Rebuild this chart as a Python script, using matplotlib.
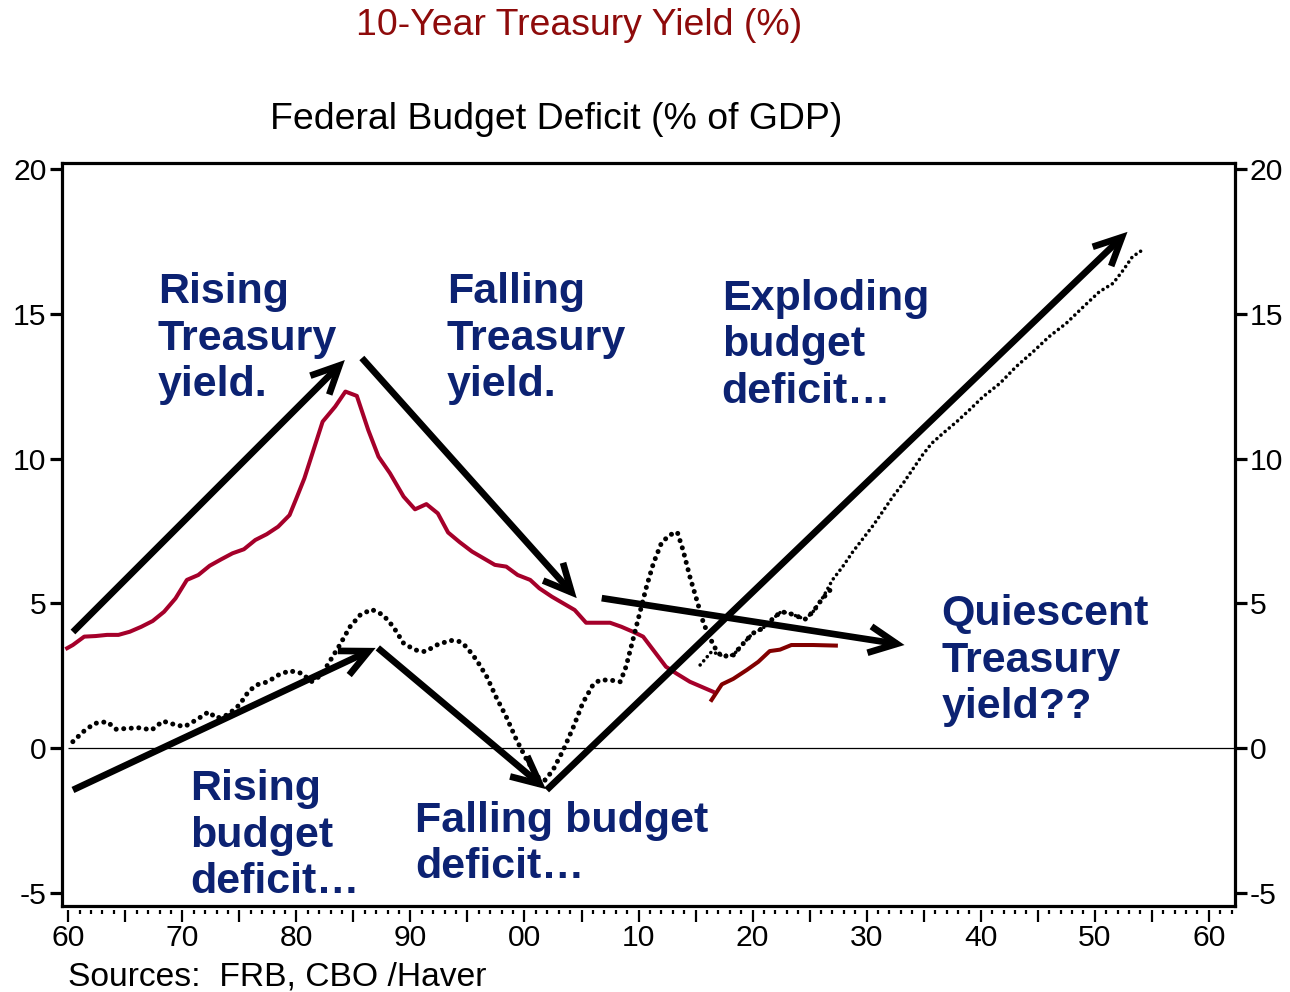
import matplotlib
matplotlib.use("Agg")
import matplotlib.pyplot as plt
from matplotlib.patches import FancyArrowPatch, ArrowStyle
from matplotlib.ticker import FixedLocator, MultipleLocator

# ---------------------------------------------------------------- data
# 10-year Treasury yield (%), smoothed history
yield_years = [1959.9, 1960.4, 1961.4, 1962.4, 1963.4, 1964.4, 1965.4, 1966.4,
               1967.4, 1968.4, 1969.4, 1970.4, 1971.4, 1972.4, 1973.4, 1974.4,
               1975.4, 1976.4, 1977.4, 1978.4, 1979.4, 1980.0, 1980.7, 1981.5,
               1982.3, 1983.4, 1984.3, 1985.3, 1986.3, 1987.2, 1988.2, 1989.4,
               1990.4, 1991.4, 1992.4, 1993.3, 1994.3, 1995.4, 1996.4, 1997.4,
               1998.4, 1999.4, 2000.5, 2001.3, 2002.4, 2003.4, 2004.4, 2005.4,
               2006.5, 2007.5, 2008.5, 2009.5, 2010.4, 2011.4, 2012.4, 2013.3,
               2014.5, 2015.5, 2016.5]
yield_values = [3.45, 3.56, 3.85, 3.87, 3.91, 3.91, 4.02, 4.19,
                4.39, 4.71, 5.17, 5.81, 5.98, 6.30, 6.52, 6.73,
                6.87, 7.19, 7.39, 7.65, 8.05, 8.63, 9.32, 10.30,
                11.28, 11.80, 12.32, 12.17, 10.99, 10.07, 9.50, 8.69,
                8.25, 8.43, 8.11, 7.45, 7.12, 6.79, 6.56, 6.33,
                6.27, 5.98, 5.81, 5.52, 5.23, 5.00, 4.77, 4.33,
                4.33, 4.33, 4.19, 4.02, 3.85, 3.33, 2.81, 2.58,
                2.29, 2.12, 1.95]

# 10-year Treasury yield (%), projection
yield_proj_years = [2016.4, 2017.3, 2018.3, 2019.5, 2020.5, 2021.5, 2022.4,
                    2023.4, 2024.4, 2025.3, 2026.3, 2027.3]
yield_proj_values = [1.66, 2.20, 2.39, 2.70, 2.98, 3.35, 3.40,
                     3.56, 3.56, 3.56, 3.55, 3.54]

# Federal budget deficit (% of GDP), history and baseline
deficit_years = [1960.4, 1961.3, 1962.3, 1963.4, 1964.2, 1965.3, 1966.3, 1967.3,
                 1968.3, 1969.4, 1970.2, 1971.3, 1972.3, 1973.0, 1974.0, 1975.0,
                 1975.8, 1976.5, 1977.5, 1978.4, 1979.4, 1980.5, 1981.3, 1982.2,
                 1982.9, 1983.8, 1984.7, 1985.6, 1986.6, 1987.6, 1988.5, 1989.4,
                 1990.4, 1991.3, 1992.3, 1993.5, 1994.3, 1994.9, 1995.8, 1996.7,
                 1997.5, 1998.4, 1999.3, 2000.2, 2001.1, 2001.8, 2002.5, 2003.4,
                 2004.3, 2005.1, 2006.0, 2006.6, 2007.5, 2008.4, 2008.9, 2009.5,
                 2010.1, 2010.7, 2011.3, 2012.0, 2012.7, 2013.4, 2013.9, 2014.5,
                 2015.1, 2015.7, 2016.2, 2016.8, 2017.3, 2018.3, 2019.2, 2020.0,
                 2020.9, 2021.8, 2022.5, 2023.2, 2024.6, 2025.3, 2026.0, 2026.8]
deficit_values = [0.22, 0.56, 0.85, 0.91, 0.65, 0.68, 0.70, 0.62,
                  0.93, 0.80, 0.74, 0.99, 1.25, 1.03, 1.15, 1.49,
                  1.95, 2.18, 2.29, 2.52, 2.67, 2.58, 2.29, 2.52,
                  2.98, 3.56, 4.19, 4.60, 4.79, 4.60, 4.19, 3.62,
                  3.39, 3.33, 3.56, 3.72, 3.68, 3.50, 3.04, 2.46,
                  1.77, 1.08, 0.28, -0.41, -0.99, -1.11, -0.76, -0.07,
                  0.74, 1.55, 2.18, 2.35, 2.35, 2.29, 2.81, 3.73,
                  4.66, 5.58, 6.38, 7.08, 7.36, 7.46, 6.84, 5.92,
                  5.12, 4.31, 3.85, 3.39, 3.16, 3.21, 3.62, 3.96,
                  4.14, 4.48, 4.71, 4.66, 4.45, 4.71, 5.10, 5.46]

# Federal budget deficit (% of GDP), long-term projection
deficit_lt_years = [2015.4, 2016.4, 2017.3, 2018.3, 2019.2, 2020.0, 2020.9,
                    2021.8, 2022.5, 2023.2, 2024.6, 2025.3, 2026.2, 2027.0,
                    2027.9, 2028.8, 2029.7, 2030.6, 2031.4, 2032.3, 2033.2,
                    2034.1, 2034.9, 2035.7, 2036.7, 2037.9, 2039.0, 2040.2,
                    2041.7, 2043.1, 2044.6, 2046.0, 2047.5, 2049.0, 2050.4,
                    2051.6, 2052.5, 2053.3, 2054.4]
deficit_lt_values = [2.87, 3.33, 3.20, 3.21, 3.62, 3.96, 4.14,
                     4.48, 4.71, 4.66, 4.45, 4.71, 5.23, 5.81,
                     6.27, 6.79, 7.25, 7.71, 8.17, 8.69, 9.15,
                     9.67, 10.13, 10.53, 10.88, 11.28, 11.68, 12.14,
                     12.61, 13.18, 13.70, 14.22, 14.68, 15.25, 15.77,
                     16.06, 16.52, 16.98, 17.27]

# axis ticks
y_ticks = [-5, 0, 5, 10, 15, 20]
y_tick_labels = ["-5", "0", "5", "10", "15", "20"]
x_decades = [1960, 1970, 1980, 1990, 2000, 2010, 2020, 2030, 2040, 2050, 2060]
x_decade_labels = ["60", "70", "80", "90", "00", "10", "20", "30", "40", "50", "60"]

# annotation arrows: (start, end) in (year, value)
trend_arrows = [
    ((1960.41, 4.01), (1984.25, 13.41)),
    ((1985.74, 13.48), (2004.58, 5.18)),
    ((2006.77, 5.18), (2033.32, 3.56)),
    ((1960.41, -1.45), (1986.95, 3.46)),
    ((1987.14, 3.46), (2001.87, -1.42)),
    ((2001.95, -1.45), (2052.87, 17.84)),
]

# annotation captions: (year, value of first baseline, lines)
captions = [
    (1967.86, 15.38, ["Rising", "Treasury", "yield."]),
    (1993.19, 15.38, ["Falling", "Treasury", "yield."]),
    (2017.29, 15.14, ["Exploding", "budget", "deficit\u2026"]),
    (2036.57, 4.25, ["Quiescent", "Treasury", "yield??"]),
    (1970.67, -1.80, ["Rising", "budget", "deficit\u2026"]),
    (1990.39, -2.90, ["Falling budget", "deficit\u2026"]),
]

# ---------------------------------------------------------------- style
plt.rcParams["font.family"] = ["Liberation Sans", "DejaVu Sans"]
NAVY = "#0C2272"
CRIMSON = "#A5002A"
DARK_RED = "#820000"
TITLE_RED = "#8E0B0B"

fig = plt.figure(figsize=(12.9, 9.92), dpi=100)
W, H = 1290.0, 992.0
ax = fig.add_axes([62 / W, 1 - 905.7 / H, (1234.5 - 62) / W, (905.7 - 162.7) / H])
ax.set_xlim(1959.45, 2062.25)
ax.set_ylim(-5.45, 20.23)

# frame
for side in ("left", "right", "top"):
    ax.spines[side].set_linewidth(2.3)
ax.spines["bottom"].set_position(("outward", 3))
ax.spines["bottom"].set_visible(False)
ax.plot([0, 1], [0, 0], transform=ax.transAxes, color="black", lw=2.3,
        clip_on=False, solid_capstyle="projecting", zorder=5)

# zero line
ax.hlines(0, 1960, 2062.25, color="black", lw=0.9, zorder=1)

# series
ax.plot(yield_years, yield_values, color=CRIMSON, lw=2.9,
        solid_joinstyle="round", zorder=3)
ax.plot(yield_proj_years, yield_proj_values, color=DARK_RED, lw=2.9,
        solid_joinstyle="round", zorder=3)
ax.plot(deficit_lt_years, deficit_lt_values, color="black", lw=2.6,
        linestyle=(0, (0.01, 1.5)), dash_capstyle="round", zorder=3)
ax.plot(deficit_years, deficit_values, color="black", lw=3.6,
        linestyle=(0, (0.01, 1.5)), dash_capstyle="round", zorder=3)

# arrows
for start, end in trend_arrows:
    arr = FancyArrowPatch(start, end,
                          arrowstyle=ArrowStyle("->", head_length=1.0, head_width=0.48),
                          mutation_scale=20, lw=4.8, color="black",
                          shrinkA=0, shrinkB=0, joinstyle="miter",
                          capstyle="butt", zorder=6)
    ax.add_patch(arr)

# captions
for x, y, lines in captions:
    for i, line in enumerate(lines):
        ax.annotate(line, xy=(x, y), xytext=(0, -33.5 * i),
                    textcoords="offset points", ha="left", va="baseline",
                    fontsize=31, fontweight="bold", color=NAVY, zorder=7)

# ticks
ax.yaxis.set_major_locator(FixedLocator(y_ticks))
ax.set_yticklabels(y_tick_labels)
ax.tick_params(axis="y", which="major", direction="out", length=8.6, width=2.3,
               labelsize=21.7, pad=2.5, left=True, right=True,
               labelleft=True, labelright=True)

ax.xaxis.set_major_locator(MultipleLocator(5))
ax.xaxis.set_minor_locator(MultipleLocator(1))
ax.tick_params(axis="x", which="major", direction="out", length=8.6, width=1.6,
               labelsize=21.7, pad=1.5, top=False)
ax.tick_params(axis="x", which="minor", direction="out", length=3.0, width=1.6,
               top=False)
major_pos = [1960 + 5 * k for k in range(21)]
ax.set_xticks(major_pos)
ax.set_xticklabels([x_decade_labels[x_decades.index(p)] if p in x_decades else ""
                    for p in major_pos])

# titles and source
fig.text(579 / W, 1 - 35 / H, "10-Year Treasury Yield (%)", ha="center",
         va="baseline", fontsize=26.9, color=TITLE_RED)
fig.text(556.5 / W, 1 - 129 / H, "Federal Budget Deficit (% of GDP)",
         ha="center", va="baseline", fontsize=26.9, color="black")
fig.text(68 / W, 1 - 985 / H, "Sources:  FRB, CBO /Haver", ha="left",
         va="baseline", fontsize=24.2, color="black")

fig.savefig("out.png", dpi=100)
